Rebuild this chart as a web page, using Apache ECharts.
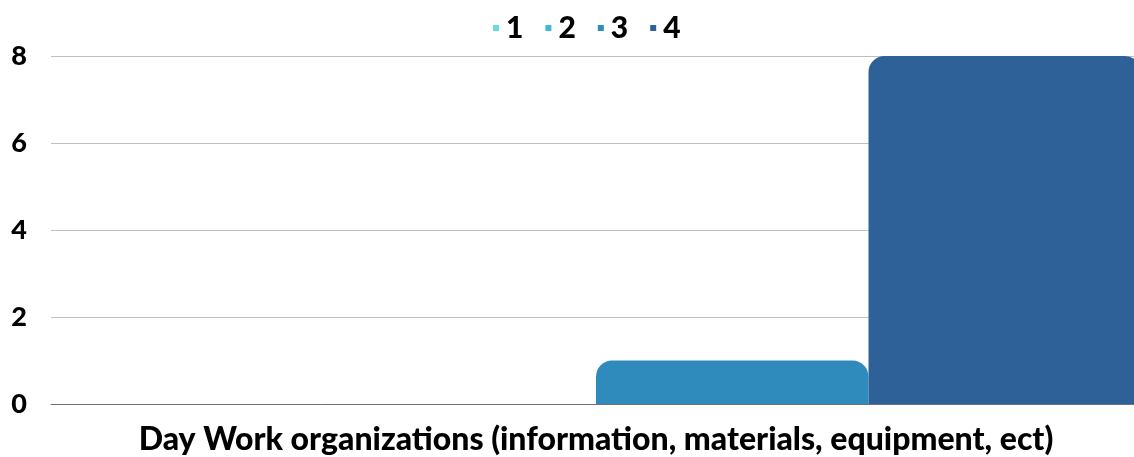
<!DOCTYPE html>
<html><head><meta charset="utf-8">
<script src="https://cdn.jsdelivr.net/npm/echarts@6/dist/echarts.min.js"></script>
<style>html,body{margin:0;padding:0;background:#fff}#c{width:1134px;height:457px}</style>
</head><body><div id="c"></div>
<script>
const categories = ['Day Work organizations (information, materials, equipment, ect)'];
const seriesNames = ['1', '2', '3', '4'];
const values1 = [0];
const values2 = [0];
const values3 = [1];
const values4 = [8];
const colors = ['#62dde6', '#3fb9db', '#2e8bbb', '#2f6199'];
const yTicks = [0, 2, 4, 6, 8];

const allValues = [values1, values2, values3, values4];
const chart = echarts.init(document.getElementById('c'));
chart.setOption({
  animation: false,
  legend: {
    top: 8, left: 488,
    itemWidth: 6, itemHeight: 6, itemGap: 22,
    icon: 'rect',
    textStyle: {fontFamily: 'Lato', fontWeight: 900, fontSize: 30, color: '#000', padding: [0,0,0,2]},
    data: seriesNames
  },
  grid: {left: 51, top: 56, bottom: 53, width: 1090, containLabel: false, outerBoundsMode: 'none'},
  xAxis: {
    type: 'category', data: categories,
    axisLine: {lineStyle: {color: '#707070', width: 1}},
    axisTick: {show: false},
    axisLabel: {fontFamily: 'Lato', fontWeight: 900, fontSize: 32, color: '#000', margin: 20}
  },
  yAxis: {
    type: 'value', min: yTicks[0], max: yTicks[yTicks.length-1], interval: 2,
    axisLine: {show: false}, axisTick: {show: false},
    splitLine: {lineStyle: {color: '#c0c0c0', width: 1}},
    axisLabel: {fontFamily: 'Lato', fontWeight: 900, fontSize: 27, color: '#000', margin: 24, align: 'right'}
  },
  series: seriesNames.map((n, i) => ({
    name: n, type: 'bar', data: allValues[i],
    barGap: '0%', barCategoryGap: '0%',
    itemStyle: {color: colors[i], borderRadius: [16, 16, 0, 0]}
  }))
});
</script></body></html>
